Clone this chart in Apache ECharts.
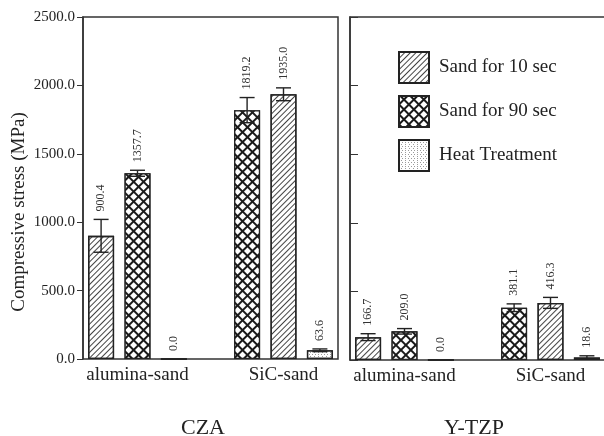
<!DOCTYPE html>
<html>
<head>
<meta charset="utf-8">
<script src="https://cdn.jsdelivr.net/npm/echarts@6/dist/echarts.min.js"></script>
<style>html,body{margin:0;padding:0;background:#fff;}#c{width:604px;height:436px;}</style>
</head>
<body>
<div id="c"></div>
<script>
// ---- data ----
const categories = ['alumina-sand', 'SiC-sand'];
const treatments = ['Sand for 10 sec', 'Sand for 90 sec', 'Heat Treatment'];
const yTicks = [0, 500, 1000, 1500, 2000, 2500];
const panelTitles = ['CZA', 'Y-TZP'];
// CZA: values by bar slot (one entry per category)
const czaSlot1 = [900.4, 1819.2];
const czaSlot2 = [1357.7, 1935.0];
const czaSlot3 = [0.0, 63.6];
const czaErr1 = [120, 92];
const czaErr2 = [22, 47];
const czaErr3 = [0, 10];
// Y-TZP
const tzpSlot1 = [166.7, 381.1];
const tzpSlot2 = [209.0, 416.3];
const tzpSlot3 = [0.0, 18.6];
const tzpErr1 = [25, 28];
const tzpErr2 = [20, 40];
const tzpErr3 = [0, 12];
// treatment index drawn in each slot, per category
const slot1Treatment = [0, 1];
const slot2Treatment = [1, 0];
const slot3Treatment = [2, 2];

// ---- styles ----
const FONT = 'Liberation Serif';
const INK = '#222';
const BAR_W = 26, BAR_GAP = 0.4;
function patStyle(t) {
  const base = { borderColor: INK, borderWidth: 1.3 };
  if (t === 0) return Object.assign(base, { color: '#fff', decal: {
    symbol: 'rect', symbolSize: 1, color: '#444', dashArrayX: [1, 0], dashArrayY: [1, 2.1], rotation: -Math.PI / 4 } });
  if (t === 1) return Object.assign(base, { color: '#1a1a1a', decal: {
    symbol: 'rect', symbolSize: 1, color: '#fff', dashArrayX: [4.3, 1.8], dashArrayY: [4.3, 1.8], rotation: Math.PI / 4 } });
  return Object.assign(base, { color: '#fff', decal: {
    symbol: 'circle', symbolSize: 0.9, color: '#333', dashArrayX: [[1, 2], [0, 1.5, 1, 0.5]], dashArrayY: [1, 0.6] } });
}

const slots = [slot1Treatment, slot2Treatment, slot3Treatment];
const panels = [
  { vals: [czaSlot1, czaSlot2, czaSlot3], errs: [czaErr1, czaErr2, czaErr3], xi: 1 },
  { vals: [tzpSlot1, tzpSlot2, tzpSlot3], errs: [tzpErr1, tzpErr2, tzpErr3], xi: 3 }
];

const series = [];
panels.forEach(function (p) {
  p.vals.forEach(function (arr, s) {
    series.push({
      type: 'bar', name: 'slot' + s, xAxisIndex: p.xi, yAxisIndex: p.xi,
      barWidth: BAR_W, barGap: (BAR_GAP * 100) + '%',
      data: arr.map(function (v, c) { return { value: v, itemStyle: patStyle(slots[s][c]) }; }),
      emphasis: { disabled: true }, z: 2
    });
  });
  const eb = [];
  p.vals.forEach(function (arr, s) {
    arr.forEach(function (v, c) { eb.push([c, s, v, p.errs[s][c]]); });
  });
  series.push({
    type: 'custom', xAxisIndex: p.xi, yAxisIndex: p.xi, z: 5,
    encode: { x: 0, y: 2 },
    data: eb,
    renderItem: function (params, api) {
      const c = api.value(0), s = api.value(1), v = api.value(2), e = api.value(3);
      const off = (s - 1) * BAR_W * (1 + BAR_GAP);
      const x = api.coord([c, 0])[0] + off;
      const yHi = api.coord([c, v + e])[1];
      const yLo = api.coord([c, v - e])[1];
      const children = [];
      const ls = { stroke: INK, lineWidth: 1.4 };
      if (e > 0) {
        children.push({ type: 'line', shape: { x1: x, y1: yHi, x2: x, y2: yLo }, style: ls });
        children.push({ type: 'line', shape: { x1: x - 7.5, y1: yHi, x2: x + 7.5, y2: yHi }, style: ls });
        children.push({ type: 'line', shape: { x1: x - 7.5, y1: yLo, x2: x + 7.5, y2: yLo }, style: ls });
      }
      children.push({ type: 'text', x: x, y: yHi - 8, rotation: Math.PI / 2,
        style: { text: v.toFixed(1), fontSize: 12, fontFamily: FONT, fill: '#333', align: 'left', verticalAlign: 'middle' } });
      return { type: 'group', children: children };
    }
  });
});
// legend entries (placed on the frame grid so they do not affect bar layout)
treatments.forEach(function (t, i) {
  series.push({ type: 'bar', name: t, xAxisIndex: 2, yAxisIndex: 2, data: [], itemStyle: patStyle(i) });
});

const yMax = yTicks[yTicks.length - 1];
const frameY = function (gi, opts) {
  return Object.assign({ type: 'value', gridIndex: gi, min: 0, max: yMax, interval: 500, splitLine: { show: false } }, opts);
};
const hiddenX = function (gi) { return { type: 'category', gridIndex: gi, data: categories, show: false }; };
const barX = function (gi) {
  return { type: 'category', gridIndex: gi, data: categories, axisLine: { show: false }, axisTick: { show: false },
    axisLabel: { fontFamily: FONT, fontSize: 19, color: INK, margin: 7 } };
};

const option = {
  animation: false,
  backgroundColor: '#fff',
  grid: [
    { left: 83, top: 17, width: 255, height: 342, show: true, borderColor: '#333', borderWidth: 1.5, outerBoundsMode: 'none' },
    { left: 64.5, top: 17, width: 292, height: 342, outerBoundsMode: 'none' },
    { left: 350, top: 17, width: 270, height: 343, show: true, borderColor: '#333', borderWidth: 1.5, outerBoundsMode: 'none' },
    { left: 331.5, top: 17, width: 292, height: 343, outerBoundsMode: 'none' }
  ],
  xAxis: [hiddenX(0), barX(1), hiddenX(2), barX(3)],
  yAxis: [
    frameY(0, { axisLine: { show: true, lineStyle: { color: '#333', width: 1.5 } },
      axisTick: { show: true, length: 6, lineStyle: { color: '#333' } },
      axisLabel: { fontFamily: FONT, fontSize: 15, color: INK, margin: 8, formatter: function (v) { return v.toFixed(1); } } }),
    frameY(1, { show: false }),
    frameY(2, { axisLine: { show: true, lineStyle: { color: '#333', width: 1.5 } },
      axisTick: { show: true, inside: true, length: 8, lineStyle: { color: '#333' } }, axisLabel: { show: false } }),
    frameY(3, { show: false })
  ],
  legend: {
    data: treatments, orient: 'vertical', left: 393, top: 46, itemWidth: 30, itemHeight: 31, itemGap: 11,
    icon: 'rect', selectedMode: false,
    textStyle: { fontFamily: FONT, fontSize: 19, color: INK, padding: [0, 0, 0, 5] }
  },
  graphic: [
    { type: 'text', x: 19, y: 212, rotation: Math.PI / 2,
      style: { text: 'Compressive stress (MPa)', fontFamily: FONT, fontSize: 19, fill: INK, align: 'center', verticalAlign: 'middle' } },
    { type: 'text', x: 203, y: 428,
      style: { text: panelTitles[0], fontFamily: FONT, fontSize: 22, fill: INK, align: 'center', verticalAlign: 'middle' } },
    { type: 'text', x: 474, y: 428,
      style: { text: panelTitles[1], fontFamily: FONT, fontSize: 22, fill: INK, align: 'center', verticalAlign: 'middle' } }
  ],
  series: series
};
const chart = echarts.init(document.getElementById('c'), null, { renderer: 'canvas' });
chart.setOption(option);
</script>
</body>
</html>
